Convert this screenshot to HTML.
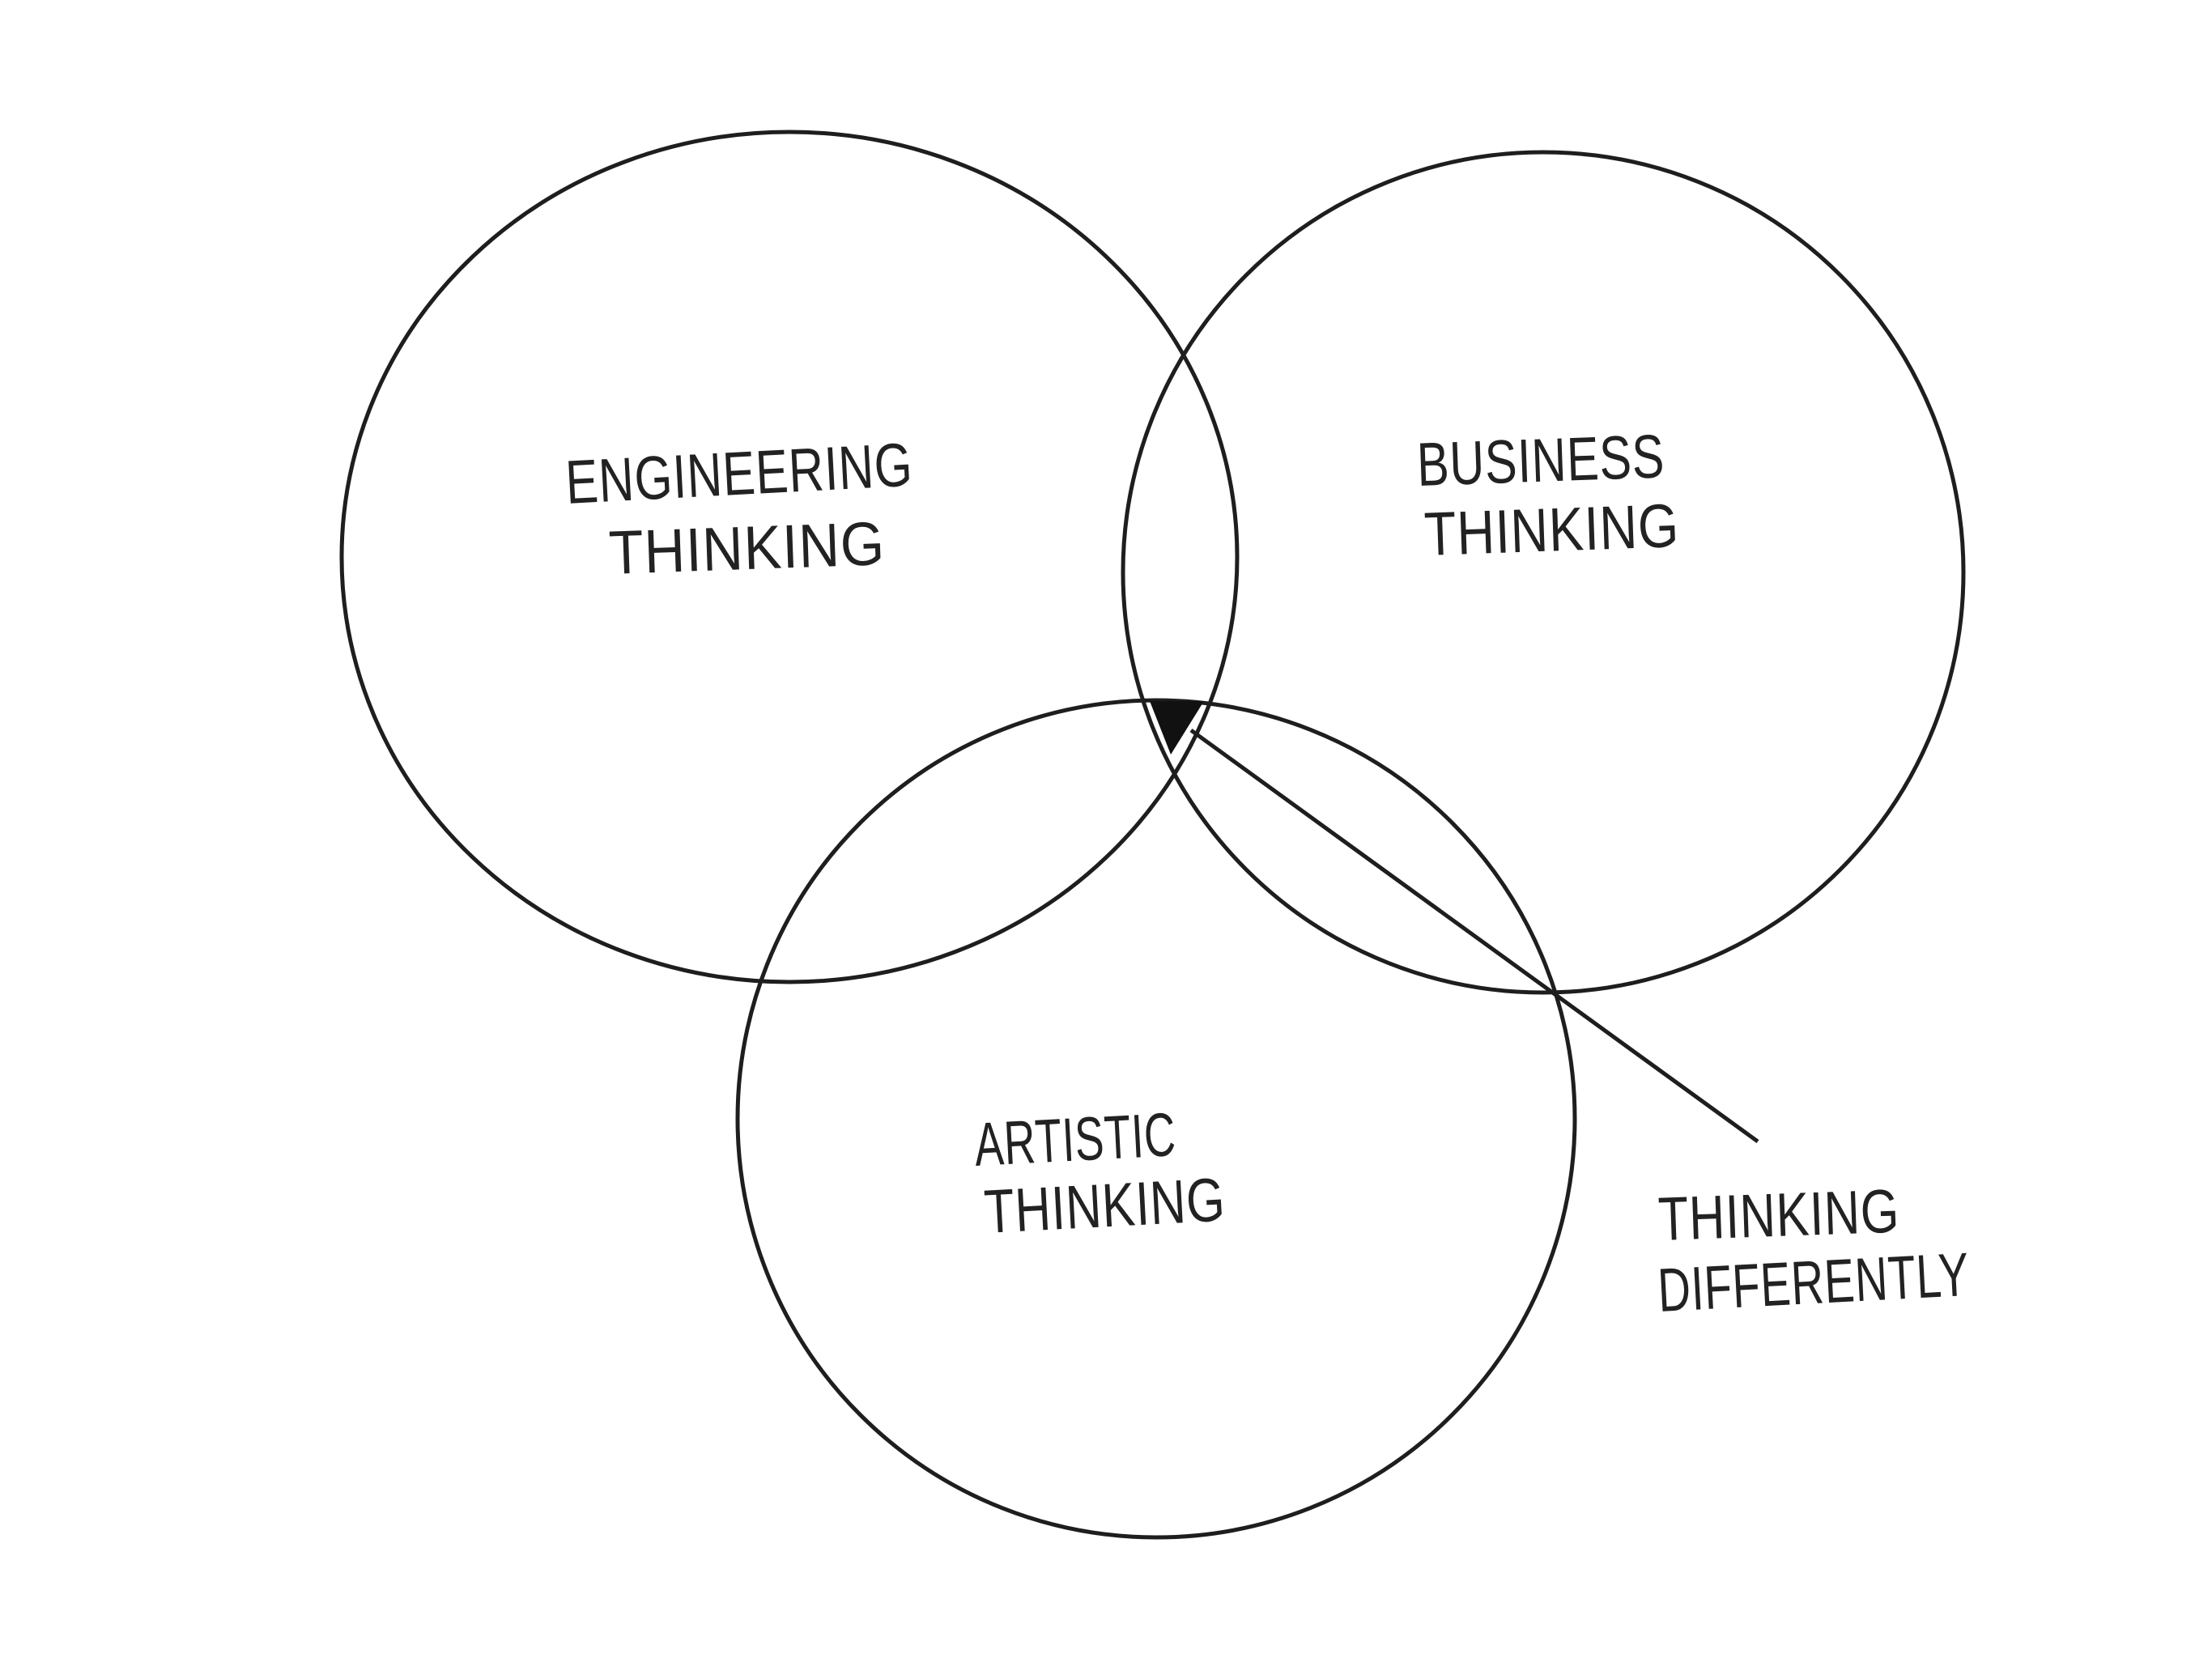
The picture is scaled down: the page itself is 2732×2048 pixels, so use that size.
<!DOCTYPE html>
<html>
<head>
<meta charset="utf-8">
<style>
html,body{margin:0;padding:0;background:#fff;}
svg{display:block;}
text{font-family:"Liberation Sans",sans-serif;fill:#222;font-weight:normal;}
</style>
</head>
<body>
<svg width="2732" height="2048" viewBox="0 0 2732 2048" xmlns="http://www.w3.org/2000/svg">
<rect width="2732" height="2048" fill="#fff"/>
<g fill="none" stroke="#1e1e1e" stroke-width="5">
<ellipse cx="975" cy="688" rx="553" ry="525"/>
<circle cx="1906" cy="707" r="519"/>
<circle cx="1428" cy="1382" r="517"/>
<line x1="1471" y1="902" x2="2171" y2="1410"/>
</g>
<polygon points="1420,866 1487,866 1446,932" fill="#111"/>
<g font-size="76" letter-spacing="1" lengthAdjust="spacingAndGlyphs">
<text x="700" y="622" textLength="429" lengthAdjust="spacingAndGlyphs" transform="rotate(-3 700 622)">ENGINEERING</text>
<text x="753" y="709" textLength="341" lengthAdjust="spacingAndGlyphs" transform="rotate(-2 753 709)">THINKING</text>
<text x="1751" y="600" textLength="306" lengthAdjust="spacingAndGlyphs" transform="rotate(-2 1751 600)">BUSINESS</text>
<text x="1760" y="686" textLength="315" lengthAdjust="spacingAndGlyphs" transform="rotate(-2 1760 686)">THINKING</text>
<text x="1205" y="1440" textLength="249" lengthAdjust="spacingAndGlyphs" transform="rotate(-3 1205 1440)">ARTISTIC</text>
<text x="1217" y="1523" textLength="298" lengthAdjust="spacingAndGlyphs" transform="rotate(-3 1217 1523)">THINKING</text>
<text x="2049" y="1532" textLength="298" lengthAdjust="spacingAndGlyphs" transform="rotate(-2 2049 1532)">THINKING</text>
<text x="2049" y="1620" textLength="385" lengthAdjust="spacingAndGlyphs" transform="rotate(-3 2049 1620)">DIFFERENTLY</text>
</g>
</svg>
</body>
</html>
